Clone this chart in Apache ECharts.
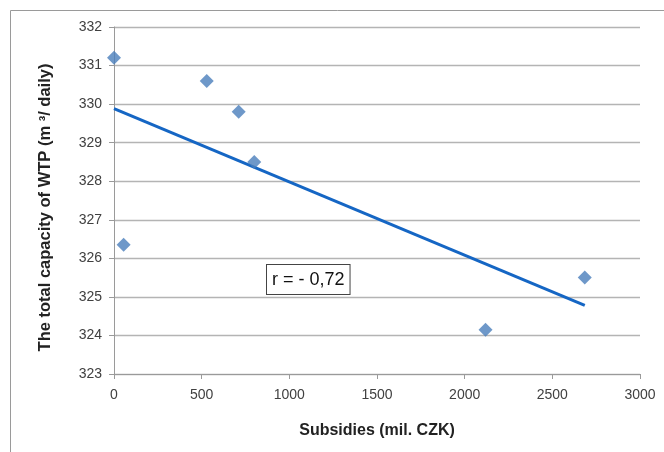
<!DOCTYPE html>
<html>
<head>
<meta charset="utf-8">
<script src="https://cdn.jsdelivr.net/npm/echarts@6/dist/echarts.min.js"></script>
<style>
  html, body { margin: 0; padding: 0; background: #fff; }
  #chart { width: 664px; height: 452px; }
</style>
</head>
<body>
<div id="chart"></div>
<script>
// subsidies (mil. CZK) vs total capacity of WTP
var subsidies = [0, 55, 529, 711, 800, 2119, 2685];
var capacity = [331.2, 326.35, 330.6, 329.8, 328.5, 324.15, 325.5];
// linear trend, end points
var trendX = [0, 2685];
var trendY = [329.88, 324.78];
var rLabel = "r = - 0,72";

var points = subsidies.map(function (x, i) { return [x, capacity[i]]; });
var trend = trendX.map(function (x, i) { return [x, trendY[i]]; });

var chart = echarts.init(document.getElementById("chart"));
var font = "Liberation Sans";

var option = {
  animation: false,
  grid: { left: 114, right: 24, top: 27, bottom: 78 },
  xAxis: {
    type: "value",
    min: 0, max: 3000, interval: 500,
    name: "Subsidies (mil. CZK)",
    nameLocation: "middle",
    nameGap: 49,
    nameTextStyle: { fontFamily: font, fontWeight: "bold", fontSize: 16, color: "#222" },
    axisLine: { lineStyle: { color: "#9a9a9a" } },
    axisTick: { show: true, length: 5, lineStyle: { color: "#9a9a9a" } },
    axisLabel: {
      fontFamily: font, fontSize: 14, color: "#404040", margin: 14,
      formatter: function (v) { return String(v); }
    },
    splitLine: { show: false }
  },
  yAxis: {
    type: "value",
    min: 323, max: 332, interval: 1,
    name: "The total capacity of WTP (m \u00b3/ daily)",
    nameLocation: "middle",
    nameGap: 60,
    nameTextStyle: { fontFamily: font, fontWeight: "bold", fontSize: 16.5, color: "#222", padding: [0, 14, 0, 0] },
    axisLine: { show: true, lineStyle: { color: "#9a9a9a" } },
    axisTick: { show: true, length: 5, lineStyle: { color: "#9a9a9a" } },
    axisLabel: { fontFamily: font, fontSize: 14, color: "#404040", margin: 12 },
    splitLine: { lineStyle: { color: "#b4b4b4", width: 1.3 } }
  },
  graphic: [
    {
      type: "rect",
      shape: { x: 10.5, y: 10.5, width: 700, height: 500 },
      style: { fill: null, stroke: "#9a9a9a", lineWidth: 1 },
      silent: true
    },
    {
      type: "text",
      left: 266, top: 264,
      style: {
        text: rLabel,
        font: "18px " + font,
        fill: "#111",
        backgroundColor: "#fff",
        borderColor: "#444",
        borderWidth: 1,
        padding: [6, 5, 5, 5]
      },
      z: 100
    }
  ],
  series: [
    {
      type: "line",
      data: trend,
      symbol: "none",
      lineStyle: { color: "#1566c4", width: 3 },
      z: 2
    },
    {
      type: "scatter",
      data: points,
      symbol: "diamond",
      symbolSize: 14,
      itemStyle: { color: "#4a7ebb" },
      z: 3
    }
  ]
};

chart.setOption(option);
</script>
</body>
</html>
